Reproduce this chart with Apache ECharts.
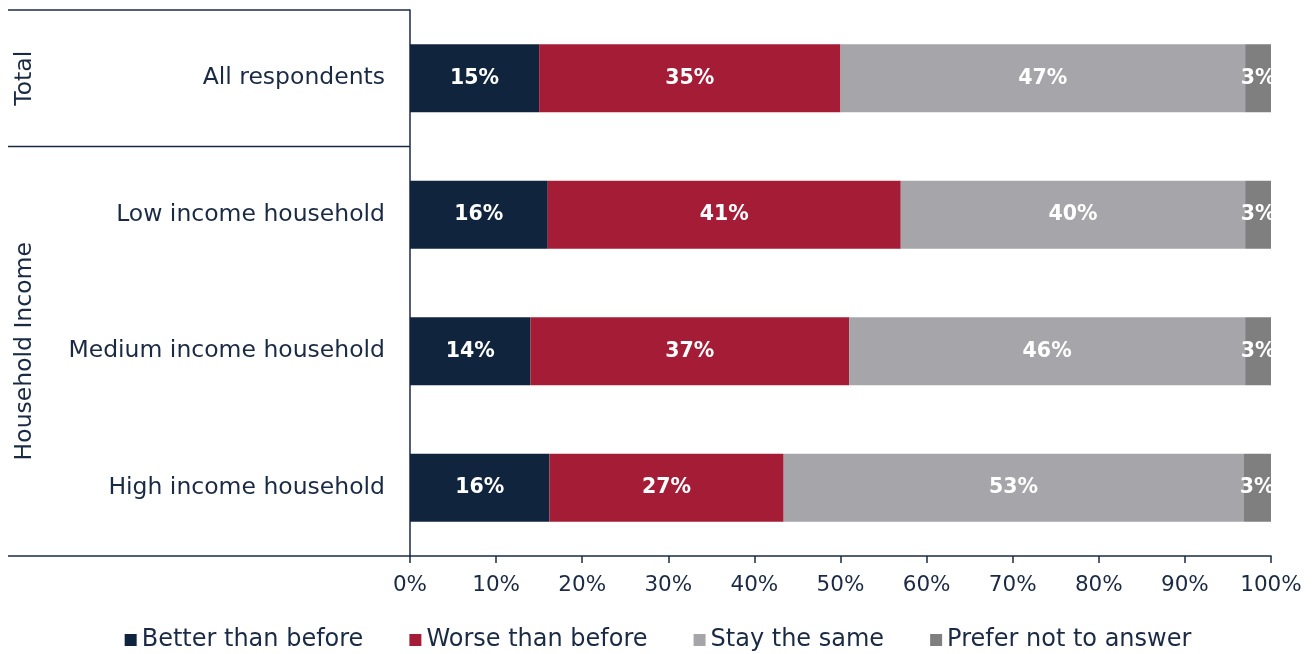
<!DOCTYPE html>
<html>
<head>
<meta charset="utf-8">
<script src="https://cdn.jsdelivr.net/npm/echarts@6/dist/echarts.min.js"></script>
<style>html,body{margin:0;padding:0;background:#fff}#c{width:1316px;height:654px}</style>
</head>
<body>
<div id="c"></div>
<script>
const categories = ['All respondents', 'Low income household', 'Medium income household', 'High income household'];
const seriesNames = ['Better than before', 'Worse than before', 'Stay the same', 'Prefer not to answer'];
const better = [15, 16, 14, 16.2];
const worse = [35, 41, 37, 27.2];
const same = [47, 40, 46, 53.4];
const preferNot = [3, 3, 3, 3.2];
const groups = [{ name: 'Total', from: 0, to: 0 }, { name: 'Household Income', from: 1, to: 3 }];

const colors = ['#10243e', '#a51c36', '#a6a6aa', '#7f7f7f'];
const navy = '#1b2a44';
const FONT = 'DejaVu Sans';

const chart = echarts.init(document.getElementById('c'), null, { renderer: 'canvas' });
const values = [better, worse, same, preferNot];

const option = {
  animation: false,
  textStyle: { fontFamily: FONT },
  grid: { left: 410, right: 45, top: 10, bottom: 98, containLabel: false },
  legend: {
    bottom: -3,
    left: 'center',
    itemWidth: 12, itemHeight: 12, itemGap: 46,
    icon: 'rect',
    textStyle: { fontFamily: FONT, fontSize: 24, color: navy, padding: [0, 0, 0, 0] },
    data: seriesNames
  },
  xAxis: {
    type: 'value', min: 0, max: 100, interval: 10,
    axisLine: { show: true, lineStyle: { color: navy, width: 1.5 } },
    axisTick: { show: true, length: 7, lineStyle: { color: navy, width: 1.5 } },
    splitLine: { show: false },
    axisLabel: { formatter: '{value}%', color: navy, fontSize: 21.5, fontFamily: FONT, margin: 18 }
  },
  yAxis: {
    type: 'category', data: categories, inverse: true,
    axisLine: { show: true, lineStyle: { color: navy, width: 1.5 } },
    axisTick: { show: false },
    axisLabel: { color: navy, fontSize: 23.5, fontFamily: FONT, margin: 25 }
  },
  series: seriesNames.map((n, i) => ({
    name: n, type: 'bar', stack: 'all', barWidth: 68,
    data: values[i],
    itemStyle: { color: colors[i] },
    label: {
      show: true, position: 'inside', color: '#fff', fontSize: 20.5, fontWeight: 'bold', fontFamily: FONT,
      formatter: p => Math.round(p.value) + '%'
    }
  }))
};
chart.setOption(option);

// decorative group frame and labels
const band = (556 - 10) / categories.length;
const g = [];
g.push({ type: 'line', shape: { x1: 8, y1: 10, x2: 410, y2: 10 }, style: { stroke: navy, lineWidth: 1.5 } });
g.push({ type: 'line', shape: { x1: 8, y1: 556, x2: 410, y2: 556 }, style: { stroke: navy, lineWidth: 1.5 } });
groups.forEach((gr, idx) => {
  const y0 = 10 + gr.from * band, y1 = 10 + (gr.to + 1) * band;
  if (idx > 0) g.push({ type: 'line', shape: { x1: 8, y1: y0, x2: 410, y2: y0 }, style: { stroke: navy, lineWidth: 1.5 } });
  g.push({
    type: 'text', x: 25, y: (y0 + y1) / 2, rotation: Math.PI / 2,
    style: { text: gr.name, fill: navy, font: '23.5px "' + FONT + '"', align: 'center', verticalAlign: 'middle' }
  });
});
chart.setOption({ graphic: g });
</script>
</body>
</html>
